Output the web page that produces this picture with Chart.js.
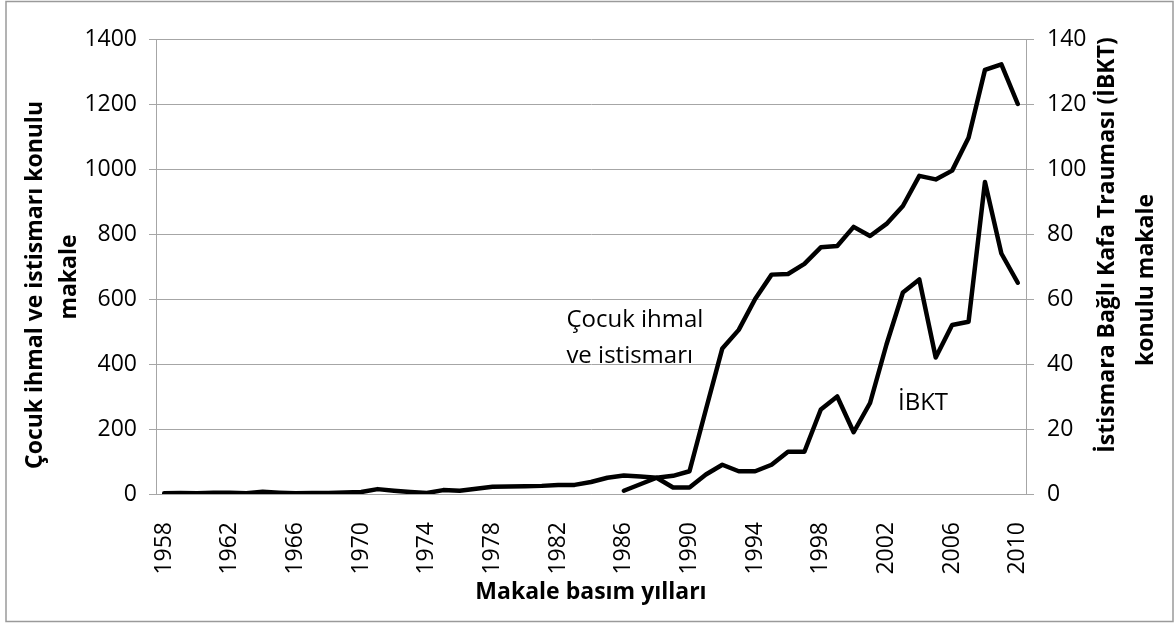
<!DOCTYPE html>
<html lang="tr">
<head>
    <meta charset="UTF-8">
    <title>Makale basım yılları</title>
    <script src="https://cdn.jsdelivr.net/npm/chart.js"></script>
    <style>
        html, body { margin: 0; padding: 0; background: #fff; }
        #wrap { width: 1176px; height: 625px; position: relative; }
    </style>
</head>
<body>
    <div id="wrap">
        <canvas id="articleChart" width="1176" height="625"></canvas>
    </div>

    <script>
        const years = [
            '1958', '1959', '1960', '1961', '1962', '1963', '1964', '1965', '1966', '1967',
            '1968', '1969', '1970', '1971', '1972', '1973', '1974', '1975', '1976', '1977',
            '1978', '1979', '1980', '1981', '1982', '1983', '1984', '1985', '1986', '1987',
            '1988', '1989', '1990', '1991', '1992', '1993', '1994', '1995', '1996', '1997',
            '1998', '1999', '2000', '2001', '2002', '2003', '2004', '2005', '2006', '2007',
            '2008', '2009', '2010'
        ];

        // çocuk ihmal ve istismarı (sol eksen)
        const childAbuse = [
            2, 3, 2, 4, 4, 2, 7, 4, 2, 3,
            3, 5, 6, 15, 10, 6, 3, 12, 10, 16,
            22, 23, 24, 25, 28, 28, 37, 50, 57, 54,
            50, 56, 70, 260, 448, 505, 600, 675, 677, 708,
            759, 763, 822, 794, 831, 886, 979, 968, 995, 1096,
            1305, 1322, 1200
        ];

        // İBKT (sağ eksen), 1986 öncesi veri yok
        const ibkt = [
            null, null, null, null, null, null, null, null, null, null,
            null, null, null, null, null, null, null, null, null, null,
            null, null, null, null, null, null, null, null, 1, 3,
            5, 2, 2, 6, 9, 7, 7, 9, 13, 13,
            26, 30, 19, 28, 46, 62, 66, 42, 52, 53,
            96, 74, 65
        ];

        const leftTicks = [0, 200, 400, 600, 800, 1000, 1200, 1400];
        const rightTicks = [0, 20, 40, 60, 80, 100, 120, 140];
        const leftTitle = ['Çocuk ihmal ve istismarı konulu', 'makale'];
        const rightTitle = ['İstismara Bağlı Kafa Trauması (İBKT)', 'konulu makale'];
        const xTitle = 'Makale basım yılları';

        const gridGray = '#a6a6a6';
        const tickFont = { family: 'Open Sans', size: 23 };
        const titleFont = 'bold 23px "Open Sans"';

        const extraText = {
            id: 'extraText',
            beforeDraw(chart) {
                const ctx = chart.ctx;
                ctx.save();
                ctx.strokeStyle = '#9a9a9a';
                ctx.lineWidth = 1.5;
                ctx.strokeRect(6, 1.5, 1167, 620);
                ctx.restore();
            },
            afterDraw(chart) {
                const ctx = chart.ctx;
                const x = chart.scales.x;
                const y = chart.scales.y;
                const y1 = chart.scales.y1;

                ctx.save();
                ctx.fillStyle = '#000';
                ctx.textAlign = 'center';
                ctx.textBaseline = 'middle';
                ctx.font = titleFont;

                // eksen başlıkları (aşağıdan yukarı)
                const rotText = (txt, cx, cy) => {
                    ctx.save();
                    ctx.translate(cx, cy);
                    ctx.rotate(-Math.PI / 2);
                    ctx.fillText(txt, 0, 0);
                    ctx.restore();
                };
                rotText(leftTitle[0], 35, 285);
                rotText(leftTitle[1], 69, 277);
                rotText(rightTitle[0], 1107, 245);
                rotText(rightTitle[1], 1146, 280);

                // seri etiketleri
                ctx.font = '24px "Open Sans"';
                ctx.textAlign = 'left';
                ctx.textBaseline = 'alphabetic';
                const lx = x.getPixelForValue(24.5);
                ctx.fillText('Çocuk ihmal', lx, y.getPixelForValue(514));
                ctx.fillText('ve istismarı', lx, y.getPixelForValue(403));
                ctx.fillText('İBKT', x.getPixelForValue(44.7), y1.getPixelForValue(26));
                ctx.restore();
            }
        };

        const ctx = document.getElementById('articleChart').getContext('2d');
        const articleChart = new Chart(ctx, {
            type: 'line',
            data: {
                labels: years,
                datasets: [
                    {
                        label: 'Çocuk ihmal ve istismarı',
                        data: childAbuse,
                        yAxisID: 'y',
                        borderColor: '#000',
                        borderWidth: 4.5,
                        borderJoinStyle: 'round',
                        borderCapStyle: 'round',
                        pointRadius: 0,
                        tension: 0
                    },
                    {
                        label: 'İBKT',
                        data: ibkt,
                        yAxisID: 'y1',
                        borderColor: '#000',
                        borderWidth: 4.5,
                        borderJoinStyle: 'round',
                        borderCapStyle: 'round',
                        pointRadius: 0,
                        tension: 0
                    }
                ]
            },
            options: {
                responsive: false,
                animation: false,
                devicePixelRatio: 1,
                layout: { padding: { top: 39, left: 0, right: 0, bottom: 0 } },
                plugins: {
                    legend: { display: false },
                    tooltip: { enabled: false }
                },
                scales: {
                    x: {
                        offset: true,
                        grid: { display: false },
                        border: { display: true, color: gridGray, width: 1 },
                        ticks: {
                            autoSkip: false,
                            maxRotation: 90,
                            minRotation: 90,
                            padding: 20,
                            color: '#000',
                            font: tickFont,
                            callback: function (v, i) {
                                return i % 4 === 0 ? years[i] : '';
                            }
                        },
                        title: {
                            display: true,
                            text: xTitle,
                            color: '#000',
                            font: { family: 'Open Sans', size: 23, weight: 'bold' },
                            padding: { top: 0, bottom: 19 }
                        },
                        afterFit: s => { s.height = 131; }
                    },
                    y: {
                        position: 'left',
                        min: 0,
                        max: 1400,
                        afterBuildTicks: s => { s.ticks = leftTicks.map(v => ({ value: v })); },
                        grid: { color: gridGray, lineWidth: 1, tickLength: 7 },
                        border: { display: true, color: gridGray, width: 1 },
                        ticks: { color: '#000', font: tickFont, padding: 12, callback: v => String(v) },
                        afterFit: s => { s.width = 156; }
                    },
                    y1: {
                        position: 'right',
                        min: 0,
                        max: 140,
                        afterBuildTicks: s => { s.ticks = rightTicks.map(v => ({ value: v })); },
                        grid: { drawOnChartArea: false, color: gridGray, lineWidth: 1, tickLength: 8 },
                        border: { display: true, color: gridGray, width: 1 },
                        ticks: { color: '#000', font: tickFont, padding: 13, callback: v => String(v) },
                        afterFit: s => { s.width = 150; }
                    }
                }
            },
            plugins: [extraText]
        });
    </script>
</body>
</html>
